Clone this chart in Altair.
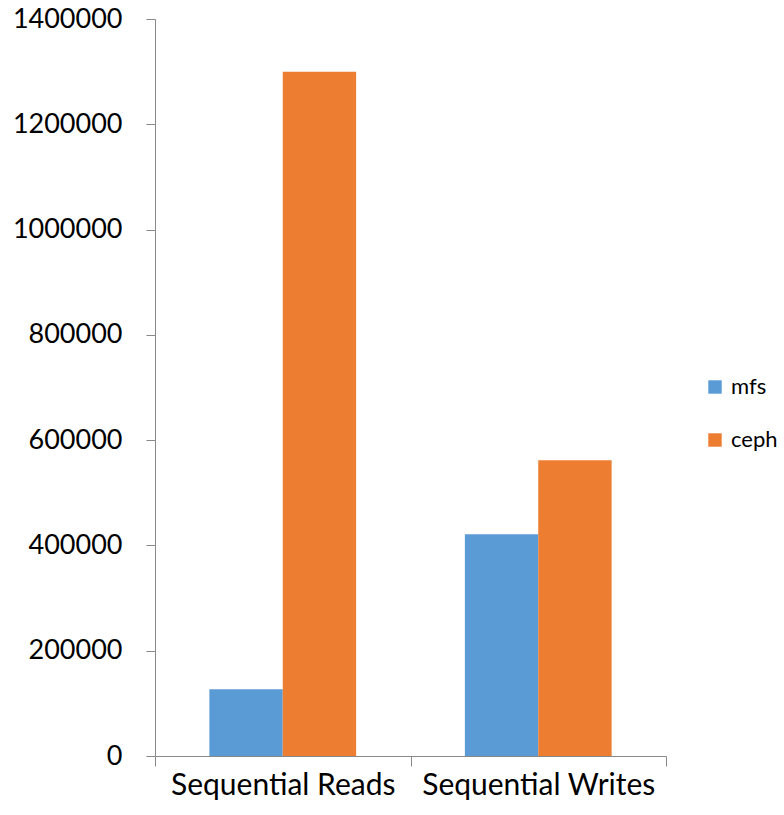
import altair as alt
import pandas as pd

categories = ["Sequential Reads", "Sequential Writes"]
series = ["mfs", "ceph"]
mfs_values = [127000, 421000]
ceph_values = [1300000, 562000]
colors = ["#5B9BD5", "#ED7D31"]
y_ticks = [0, 200000, 400000, 600000, 800000, 1000000, 1200000, 1400000]

rows = []
for i, c in enumerate(categories):
    rows.append({"category": c, "series": "mfs", "value": mfs_values[i]})
    rows.append({"category": c, "series": "ceph", "value": ceph_values[i]})
df = pd.DataFrame(rows)

FONT = "Lato"

chart = alt.Chart(df).mark_bar().encode(
    x=alt.X("category:N", sort=categories, title=None,
            scale=alt.Scale(paddingInner=0, paddingOuter=0),
            axis=alt.Axis(labelAngle=0, tickBand="extent", domainColor="#898989",
                          tickColor="#898989", tickSize=10, labelFontSize=30,
                          labelFont=FONT, labelColor="#000000", labelPadding=4,
                          labelLimit=0)),
    xOffset=alt.XOffset("series:N", sort=series,
                        scale=alt.Scale(paddingInner=0, paddingOuter=0.741)),
    y=alt.Y("value:Q", title=None,
            scale=alt.Scale(domain=[0, 1400000], nice=False),
            axis=alt.Axis(values=y_ticks, format="d", grid=False, domainColor="#898989",
                          tickColor="#898989", tickSize=9, labelFontSize=27,
                          labelFont=FONT, labelColor="#000000", labelPadding=24)),
    color=alt.Color("series:N", sort=series,
                    scale=alt.Scale(domain=series, range=colors),
                    legend=alt.Legend(title=None, orient="none", legendX=549, legendY=357,
                                      symbolType="square", symbolSize=180,
                                      symbolStrokeWidth=0, labelFontSize=22,
                                      labelFont=FONT, labelColor="#000000",
                                      rowPadding=31, labelOffset=5)),
).properties(
    width=511, height=737,
    padding={"left": 155, "top": 19, "right": 118, "bottom": 59},
    autosize=alt.AutoSizeParams(type="none"),
).configure(background="white").configure_view(stroke=None)

chart.save("out.html", embed_options={"renderer": "svg", "actions": False})
